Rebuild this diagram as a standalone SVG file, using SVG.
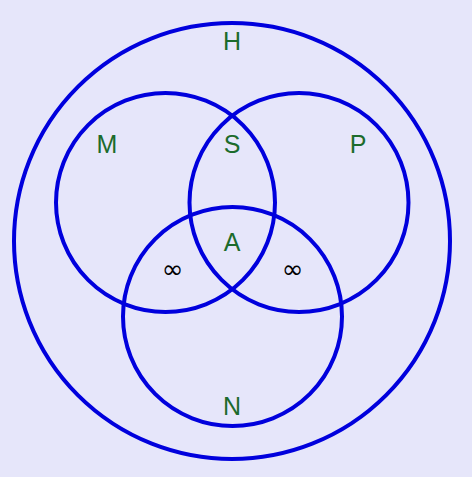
<svg xmlns="http://www.w3.org/2000/svg" width="472" height="477" viewBox="0 0 472 477">
<style>
.c{fill:none;stroke:#0000dd;stroke-width:4}
.l{font-family:"Liberation Sans",Arial,sans-serif;font-size:25px;fill:#1c6b2c;text-anchor:middle}
.i{font-family:"DejaVu Sans",sans-serif;font-size:26px;fill:#000;text-anchor:middle}
</style>
<rect width="472" height="477" fill="#e6e6fa"/>
<g id="H"><circle class="c" cx="232" cy="241" r="218"/><text class="l" x="232" y="50">H</text></g>
<g id="M"><circle class="c" cx="165.5" cy="202.5" r="109.5"/><text class="l" x="107" y="153">M</text></g>
<g id="P"><circle class="c" cx="299" cy="202.5" r="109.5"/><text class="l" x="358" y="153">P</text></g>
<g id="N"><circle class="c" cx="232.5" cy="316.5" r="109.5"/><text class="l" x="232" y="415">N</text></g>
<g id="S"><text class="l" x="232" y="153">S</text></g>
<g id="A"><text class="l" x="232" y="251">A</text></g>
<g id="MN"><text class="i" x="172.5" y="278">∞</text></g>
<g id="PN"><text class="i" x="292.5" y="278">∞</text></g>
<g id="connectors"/>
</svg>
